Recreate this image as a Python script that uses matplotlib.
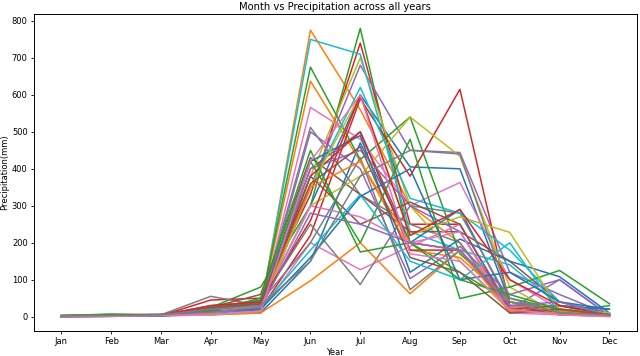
import matplotlib
matplotlib.use("Agg")
import matplotlib.pyplot as plt

months = ["Jan", "Feb", "Mar", "Apr", "May", "Jun", "Jul", "Aug", "Sep", "Oct", "Nov", "Dec"]

y00 = [1, 2, 5, 20, 30, 300, 600, 405, 400, 40, 20, 5]
y01 = [0, 3, 2, 10, 20, 775, 560, 300, 200, 30, 5, 2]
y02 = [3, 6, 4, 25, 80, 300, 780, 200, 120, 40, 10, 30]
y03 = [1, 2, 3, 45, 50, 330, 740, 250, 250, 20, 30, 5]
y04 = [0, 1, 2, 10, 15, 350, 680, 450, 444, 120, 60, 5]
y05 = [2, 4, 3, 20, 40, 400, 500, 200, 180, 15, 20, 3]
y06 = [0, 1, 3, 8, 20, 566, 480, 300, 363, 100, 20, 2]
y07 = [2, 3, 5, 55, 30, 512, 330, 250, 200, 10, 15, 3]
y08 = [1, 2, 4, 5, 10, 380, 700, 300, 150, 15, 10, 1]
y09 = [0, 2, 3, 12, 20, 750, 710, 230, 180, 140, 30, 5]
y10 = [1, 3, 2, 15, 10, 150, 470, 200, 290, 30, 30, 20]
y11 = [2, 4, 4, 20, 25, 637, 420, 180, 160, 40, 10, 3]
y12 = [1, 2, 3, 20, 30, 675, 425, 540, 170, 50, 20, 10]
y13 = [0, 1, 2, 10, 20, 220, 590, 380, 615, 30, 10, 2]
y14 = [1, 3, 5, 8, 25, 400, 450, 300, 230, 20, 100, 2]
y15 = [3, 4, 6, 25, 60, 430, 330, 230, 230, 150, 40, 8]
y16 = [0, 1, 2, 5, 15, 200, 127, 190, 250, 25, 30, 3]
y17 = [2, 3, 4, 30, 40, 250, 87, 300, 280, 40, 20, 10]
y18 = [1, 2, 5, 10, 30, 300, 380, 540, 434, 80, 5, 1]
y19 = [1, 3, 3, 10, 15, 350, 620, 320, 280, 180, 40, 5]
y20 = [2, 3, 4, 20, 35, 420, 490, 120, 210, 150, 108, 10]
y21 = [1, 5, 3, 5, 10, 97, 200, 62, 180, 30, 15, 2]
y22 = [3, 7, 5, 25, 45, 420, 200, 480, 49, 80, 125, 35]
y23 = [0, 3, 2, 15, 20, 380, 500, 180, 180, 20, 10, 3]
y24 = [1, 2, 2, 10, 20, 500, 400, 103, 190, 60, 100, 3]
y25 = [2, 5, 6, 20, 40, 380, 250, 310, 250, 20, 30, 5]
y26 = [1, 2, 4, 12, 30, 300, 270, 200, 230, 10, 5, 2]
y27 = [3, 4, 6, 25, 40, 200, 430, 73, 180, 40, 5, 2]
y28 = [1, 2, 3, 5, 15, 350, 600, 220, 270, 228, 20, 10]
y29 = [0, 1, 3, 10, 25, 180, 330, 150, 100, 200, 10, 3]
y30 = [1, 3, 2, 15, 20, 160, 325, 400, 100, 120, 40, 20]
y31 = [2, 4, 5, 10, 30, 350, 420, 200, 180, 15, 10, 2]
y32 = [2, 5, 4, 15, 50, 450, 175, 200, 100, 60, 20, 5]
y33 = [1, 2, 4, 30, 40, 260, 600, 220, 290, 100, 30, 5]
y34 = [0, 2, 5, 12, 25, 280, 250, 200, 180, 30, 40, 3]
y35 = [1, 3, 4, 25, 35, 360, 460, 160, 120, 10, 20, 5]
y36 = [0, 1, 3, 5, 15, 420, 600, 170, 150, 20, 5, 0]
y37 = [2, 3, 5, 20, 30, 150, 380, 450, 440, 50, 10, 5]

series = [y00, y01, y02, y03, y04, y05, y06, y07, y08, y09,
          y10, y11, y12, y13, y14, y15, y16, y17, y18, y19,
          y20, y21, y22, y23, y24, y25, y26, y27, y28, y29,
          y30, y31, y32, y33, y34, y35, y36, y37]

fig = plt.figure(figsize=(6.4, 3.56), dpi=100)
ax = fig.add_axes([0.053, 0.070, 0.942, 0.891])
for s in series:
    ax.plot(months, s, linewidth=1.1)

ax.set_title("Month vs Precipitation across all years", fontsize=7.2, pad=3)
ax.set_xlabel("Year", fontsize=6, labelpad=1)
ax.set_ylabel("Precipitation(mm)", fontsize=6, labelpad=2)
ax.tick_params(labelsize=6, length=2.5, width=0.6, pad=2)
for sp in ax.spines.values():
    sp.set_linewidth(0.7)

fig.savefig("out.png", dpi=100)
